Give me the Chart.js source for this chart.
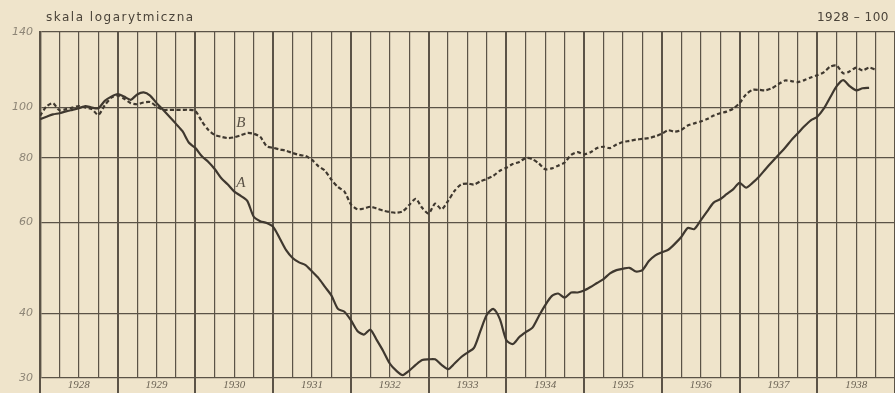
<!DOCTYPE html>
<html>
<head>
<meta charset="utf-8">
<script src="https://cdn.jsdelivr.net/npm/chart.js@4"></script>
<style>
  html, body { margin: 0; padding: 0; background: #efe4cb; }
  #wrap { width: 895px; height: 393px; }
</style>
</head>
<body>
<div id="wrap"><canvas id="chart"></canvas></div>
<script>
// monthly index values, Jan 1928 = month 0 (1928 = 100)
const years = [1928, 1929, 1930, 1931, 1932, 1933, 1934, 1935, 1936, 1937, 1938];
const yTicks = [30, 40, 60, 80, 100, 140];

const seriesA = [
  95, 96, 97, 97.5, 98.3, 99, 99.7, 100.7, 100, 99.7, 103, 105,
  106.2, 105, 103.5, 106, 107, 105.5, 102, 99, 96, 93, 90, 85.5,
  83.5, 80.5, 78.5, 76, 73, 71, 68.8, 67.5, 66, 61.5, 60.3, 59.8,
  58.8, 55.9, 53, 51.2, 50.2, 49.6, 48.2, 46.8, 45, 43.3, 40.8, 40.3,
  38.8, 37, 36.4, 37.2, 35.5, 33.8, 32, 31, 30.4, 31, 31.8, 32.5,
  32.6, 32.6, 31.8, 31.2, 32, 32.9, 33.6, 34.3, 37, 39.8, 40.8, 39,
  35.5, 34.9, 36, 36.8, 37.5, 39.5, 41.5, 43.2, 43.7, 42.9, 43.9, 43.9,
  44.3, 45, 45.8, 46.6, 47.8, 48.5, 48.8, 49, 48.2, 48.5, 50.5, 51.8,
  52.5, 53.1, 54.5, 56.2, 58.5, 58.2, 60.5, 63, 65.5, 66.5, 68, 69.5,
  71.5, 70, 71.5, 73.5, 76, 78.5, 81, 83.5, 86.5, 89.2, 92, 94.5,
  96, 99.5, 104.7, 110, 113, 110, 108, 109, 109.2
];

const seriesB = [
  96.4, 100.5, 102, 98.8, 99.3, 100, 100.7, 100, 99.3, 96.8, 101, 104.5,
  105.5, 104, 102, 101.5, 102.3, 102.5, 100.5, 99, 99, 99, 99, 99,
  98.5, 94, 90.5, 88.5, 87.8, 87.3, 87.6, 88.4, 89.3, 89, 87.8, 84.2,
  83.6, 83, 82.5, 81.7, 81, 80.6, 79.2, 77, 75.5, 72.5, 70.2, 68.8,
  65, 63.6, 63.8, 64.3, 63.8, 63.2, 62.8, 62.6, 63, 64.8, 66.6, 64,
  62.4, 65.2, 63.6, 66, 69, 71, 71.3, 71, 72, 72.8, 73.8, 75.5,
  76.5, 77.8, 78.5, 79.9, 79.5, 78, 76, 76.3, 77.2, 78.3, 81, 82,
  81.2, 82, 83.5, 84, 83.5, 84.8, 85.8, 86.2, 86.7, 87, 87.3, 88,
  89, 90.4, 89.8, 90.5, 92.3, 93.2, 94, 95, 96.5, 97.5, 98.2, 99.5,
  102, 106, 108.2, 108.2, 108, 109, 111, 112.8, 112.5, 112, 113, 114.3,
  115.5, 117, 120, 120.5, 116.5, 117.5, 119.5, 118, 119.5, 118.3
];

const ink = '#3f382f';
const gridInk = '#5b5347';
const labelInk = '#8d8576';

function toPoints(arr) {
  return arr.map((v, i) => ({ x: i, y: v }));
}

const paper = {
  id: 'paper',
  beforeDraw(chart) {
    const c = chart.ctx;
    c.save();
    c.fillStyle = '#efe4cb';
    c.fillRect(0, 0, chart.width, chart.height);
    c.restore();
  },
  afterDraw(chart) {
    const c = chart.ctx;
    const area = chart.chartArea;
    const xs = chart.scales.x, ys = chart.scales.y;
    c.save();
    c.fillStyle = '#4a4339';
    c.font = '12px "DejaVu Sans"';
    c.textBaseline = 'middle';
    c.textAlign = 'left';
    if (c.letterSpacing !== undefined) c.letterSpacing = '1.5px';
    c.fillText('skala logarytmiczna', area.left + 6, 18);
    c.textAlign = 'right';
    if (c.letterSpacing !== undefined) c.letterSpacing = '0.5px';
    c.fillText('1928 \u2013 100', chart.width - 6, 18);
    // series letters
    if (c.letterSpacing !== undefined) c.letterSpacing = '0px';
    c.font = 'italic 15px "Liberation Serif"';
    c.textAlign = 'center';
    c.fillStyle = '#5a5246';
    c.fillText('B', xs.getPixelForValue(31), ys.getPixelForValue(93.5));
    c.fillText('A', xs.getPixelForValue(31), ys.getPixelForValue(71.5));
    c.restore();
  }
};

new Chart(document.getElementById('chart'), {
  type: 'line',
  data: {
    datasets: [
      {
        label: 'A',
        data: toPoints(seriesA),
        borderColor: ink,
        borderWidth: 2.2,
        pointRadius: 0,
        tension: 0.25,
        fill: false
      },
      {
        label: 'B',
        data: toPoints(seriesB),
        borderColor: ink,
        borderWidth: 2.2,
        borderDash: [4, 2.5],
        pointRadius: 0,
        tension: 0.25,
        fill: false
      }
    ]
  },
  options: {
    responsive: true,
    maintainAspectRatio: false,
    animation: false,
    layout: { padding: { top: 32, right: 0, left: 0, bottom: 0 } },
    plugins: {
      legend: { display: false },
      tooltip: { enabled: false }
    },
    scales: {
      x: {
        type: 'linear',
        min: 0,
        max: 132,
        afterFit(scale) { scale.height = 15; },
        border: { display: false },
        grid: {
          color: gridInk,
          lineWidth: ctx => (ctx.tick && ctx.tick.value % 12 === 0) ? 2 : 1.2,
          drawTicks: true,
          tickLength: 15,
          tickColor: ctx => (ctx.tick && ctx.tick.value % 12 === 0) ? gridInk : 'rgba(0,0,0,0)'
        },
        ticks: {
          stepSize: 3,
          autoSkip: false,
          maxRotation: 0,
          padding: -14,
          color: '#6c6456',
          font: { family: 'Liberation Serif', style: 'italic', size: 11 },
          callback: v => (v % 12 === 6) ? String(years[(v - 6) / 12]) : ''
        }
      },
      y: {
        type: 'logarithmic',
        min: 30,
        max: 140,
        afterFit(scale) { scale.width = 40; },
        afterBuildTicks(scale) { scale.ticks = yTicks.map(v => ({ value: v })); },
        border: { display: true, color: gridInk, width: 2.4 },
        grid: {
          color: gridInk,
          lineWidth: 1.3,
          drawTicks: false
        },
        ticks: {
          padding: 7,
          color: labelInk,
          font: { family: 'DejaVu Sans', style: 'italic', size: 11 },
          callback: v => String(v)
        }
      }
    }
  },
  plugins: [paper]
});
</script>
</body>
</html>
